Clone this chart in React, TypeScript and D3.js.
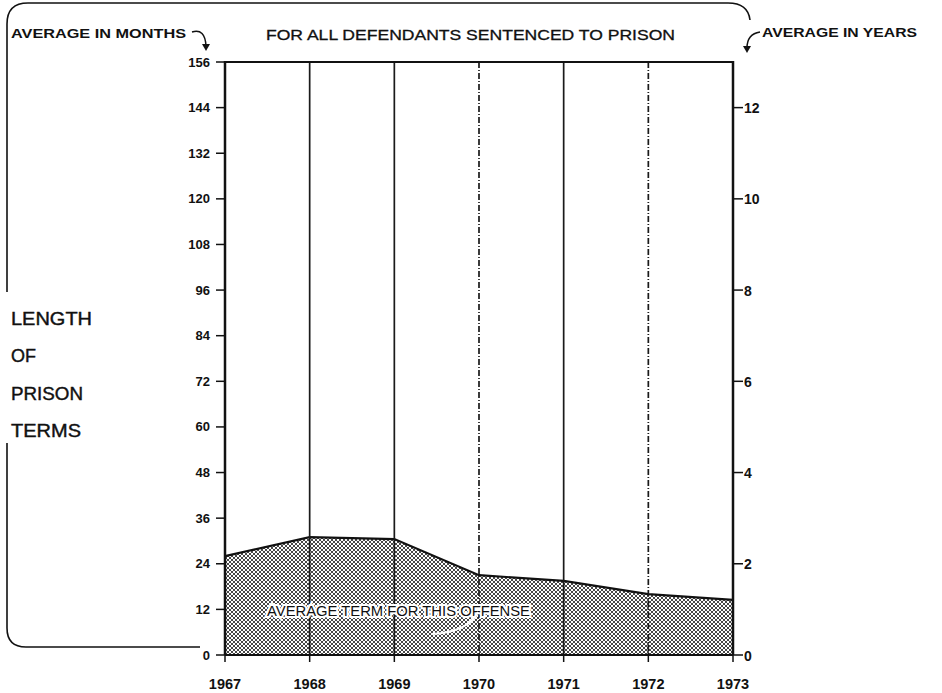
import React, { useEffect, useRef } from "react";
import * as d3 from "d3";

const years = [1967, 1968, 1969, 1970, 1971, 1972, 1973];
const avgMonths = [26, 31, 30.5, 21, 19.5, 16, 14.5];
const monthTicks = [0, 12, 24, 36, 48, 60, 72, 84, 96, 108, 120, 132, 144, 156];
const yearTicks = [0, 2, 4, 6, 8, 10, 12];
const dashedYears = [1970, 1972];
const sideLabel = ["LENGTH", "OF", "PRISON", "TERMS"];
const sideLabelWidths = [81, 25, 72, 70];
const title = "FOR ALL DEFENDANTS SENTENCED TO PRISON";
const leftHeader = "AVERAGE IN MONTHS";
const rightHeader = "AVERAGE IN YEARS";
const areaLabel = "AVERAGE TERM FOR THIS OFFENSE";

const W = 942, H = 693;
const FONT = "'Liberation Sans', Arial, Helvetica, sans-serif";

export default function App() {
  const ref = useRef<SVGSVGElement>(null);
  useEffect(() => {
    const svg = d3.select(ref.current);
    svg.selectAll("*").remove();
    const x = d3.scaleLinear().domain([1967, 1973]).range([225, 733]);
    const y = d3.scaleLinear().domain([0, 156]).range([655, 62]);
    const yYears = d3.scaleLinear().domain([0, 13]).range([655, 62]);

    const defs = svg.append("defs");
    const pat = defs.append("pattern").attr("id", "hatch").attr("patternUnits", "userSpaceOnUse")
      .attr("width", 4).attr("height", 4);
    pat.append("rect").attr("width", 4).attr("height", 4).attr("fill", "#fff");
    pat.append("path").attr("d", "M0,0 L4,4 M4,0 L0,4").attr("stroke", "#333").attr("stroke-width", 0.9);

    const g = svg.append("g");

    const area = d3.area<number>().x((_, i) => x(years[i])).y0(y(0)).y1(d => y(d));
    g.append("path").datum(avgMonths).attr("d", area as any).attr("fill", "url(#hatch)");
    const line = d3.line<number>().x((_, i) => x(years[i])).y(d => y(d));
    g.append("path").datum(avgMonths).attr("d", line as any).attr("fill", "none")
      .attr("stroke", "#111").attr("stroke-width", 2.2);

    g.selectAll(".vg").data(years.slice(1, -1)).enter().append("line")
      .attr("x1", d => x(d)).attr("x2", d => x(d)).attr("y1", y(156)).attr("y2", y(0))
      .attr("stroke", "#1a1a1a").attr("stroke-width", 1.7)
      .attr("stroke-dasharray", d => dashedYears.includes(d) ? "6,2,1,2" : null);

    g.append("line").attr("x1", x(1967)).attr("x2", x(1973)).attr("y1", y(156)).attr("y2", y(156))
      .attr("stroke", "#111").attr("stroke-width", 2);
    g.append("line").attr("x1", x(1967)).attr("x2", x(1967)).attr("y1", y(156) - 1).attr("y2", y(0))
      .attr("stroke", "#111").attr("stroke-width", 2.5);
    g.append("line").attr("x1", x(1973)).attr("x2", x(1973)).attr("y1", y(156) - 1).attr("y2", y(0))
      .attr("stroke", "#111").attr("stroke-width", 2.5);
    g.append("line").attr("x1", x(1967)).attr("x2", x(1973)).attr("y1", y(0)).attr("y2", y(0))
      .attr("stroke", "#111").attr("stroke-width", 2);

    monthTicks.forEach(t => {
      g.append("line").attr("x1", 216).attr("x2", x(1967)).attr("y1", y(t)).attr("y2", y(t))
        .attr("stroke", "#111").attr("stroke-width", 1.5);
      g.append("text").attr("x", 210).attr("y", y(t) + 4.5).attr("text-anchor", "end")
        .attr("font-family", FONT).attr("font-weight", "bold").attr("font-size", 13)
        .attr("fill", "#111").text(String(t));
    });
    yearTicks.forEach(t => {
      g.append("line").attr("x1", x(1973)).attr("x2", 743).attr("y1", yYears(t)).attr("y2", yYears(t))
        .attr("stroke", "#111").attr("stroke-width", 1.5);
      g.append("text").attr("x", 744).attr("y", yYears(t) + 5.5).attr("text-anchor", "start")
        .attr("font-family", FONT).attr("font-weight", "bold").attr("font-size", 14)
        .attr("fill", "#111").text(String(t));
    });
    years.forEach(yr => {
      g.append("line").attr("x1", x(yr)).attr("x2", x(yr)).attr("y1", y(0)).attr("y2", y(0) + 7)
        .attr("stroke", "#111").attr("stroke-width", 1.5);
      g.append("text").attr("x", x(yr)).attr("y", 689).attr("text-anchor", "middle")
        .attr("font-family", FONT).attr("font-weight", "bold").attr("font-size", 14.5)
        .attr("fill", "#111").text(String(yr));
    });

    g.append("text").attr("x", 267).attr("y", 616)
      .attr("font-family", FONT).attr("font-size", 14).attr("fill", "#111")
      .attr("textLength", 263).attr("lengthAdjust", "spacingAndGlyphs")
      .attr("stroke", "#fff").attr("stroke-width", 4).attr("paint-order", "stroke")
      .text(areaLabel);
    g.append("path").attr("d", "M432,634 Q468,632 478,612").attr("fill", "none")
      .attr("stroke", "#fff").attr("stroke-width", 2);

    g.append("path").attr("d", "M7,292 L7,24 Q7,3 28,3 L728,3 Q748,3 750,20")
      .attr("fill", "none").attr("stroke", "#111").attr("stroke-width", 1.6);
    g.append("path").attr("d", "M7,443 L7,628 Q7,647 26,647 L200,647")
      .attr("fill", "none").attr("stroke", "#111").attr("stroke-width", 1.6);

    g.append("text").attr("x", 11).attr("y", 38).attr("font-family", FONT).attr("font-weight", "bold")
      .attr("font-size", 12).attr("fill", "#111")
      .attr("textLength", 175).attr("lengthAdjust", "spacingAndGlyphs").text(leftHeader);
    g.append("text").attr("x", 762).attr("y", 37).attr("font-family", FONT).attr("font-weight", "bold")
      .attr("font-size", 12).attr("fill", "#111")
      .attr("textLength", 155).attr("lengthAdjust", "spacingAndGlyphs").text(rightHeader);
    g.append("text").attr("x", 266).attr("y", 40).attr("font-family", FONT)
      .attr("font-size", 14.5).attr("fill", "#111").attr("stroke", "#111").attr("stroke-width", 0.3)
      .attr("textLength", 409).attr("lengthAdjust", "spacingAndGlyphs").text(title);

    g.append("path").attr("d", "M192,32 Q205,28 206,46").attr("fill", "none")
      .attr("stroke", "#111").attr("stroke-width", 1.5);
    g.append("path").attr("d", "M202,44 L206,51 L210,44 Z").attr("fill", "#111");
    g.append("path").attr("d", "M760,32 Q747,34 747,48").attr("fill", "none")
      .attr("stroke", "#111").attr("stroke-width", 1.5);
    g.append("path").attr("d", "M743,46 L747,53 L751,46 Z").attr("fill", "#111");

    sideLabel.forEach((s, i) => {
      g.append("text").attr("x", 11).attr("y", 325 + i * 37.4).attr("font-family", FONT)
        .attr("font-size", 17.5).attr("fill", "#111").attr("stroke", "#111").attr("stroke-width", 0.4)
        .attr("textLength", sideLabelWidths[i]).attr("lengthAdjust", "spacingAndGlyphs").text(s);
    });
  }, []);
  return (
    <svg ref={ref} width={W} height={H}
      style={{ position: "absolute", left: 0, top: 0, background: "#fff" }} />
  );
}
